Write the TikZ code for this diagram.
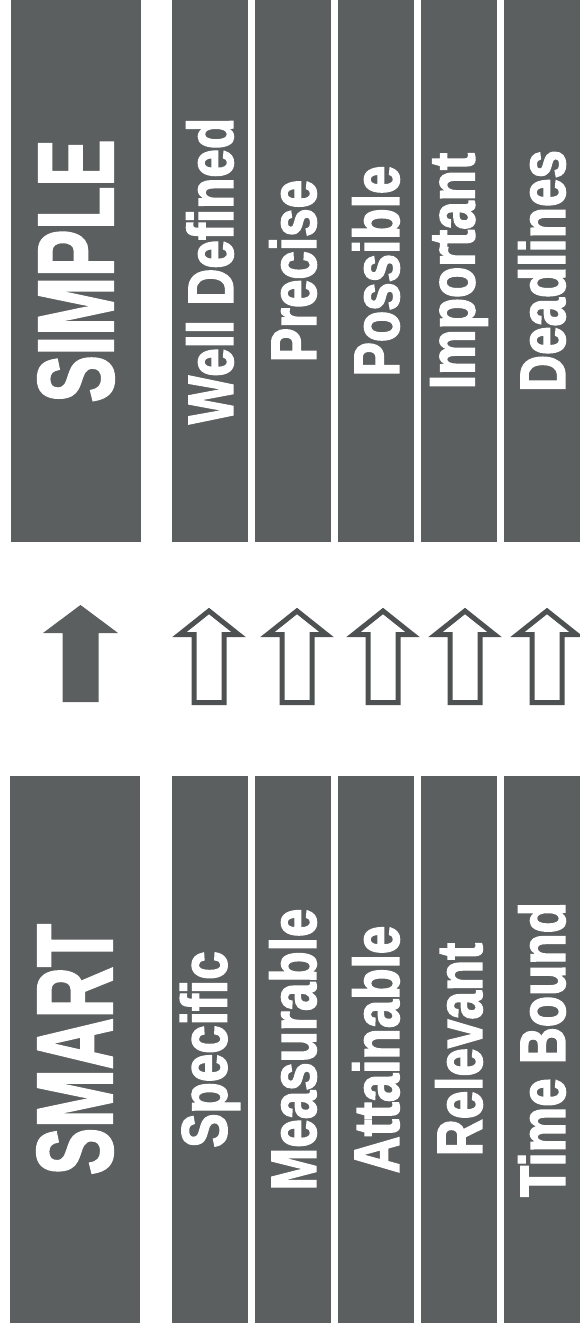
\documentclass[tikz,border=0pt]{standalone}
\usepackage{fontspec}
\setmainfont{Liberation Sans}[BoldFeatures={FakeBold=2.5}]
\usetikzlibrary{positioning}
\definecolor{bandgray}{RGB}{92,95,95}

\begin{document}
\begin{tikzpicture}[x=1pt, y=-1pt,
    band/.style={fill=bandgray, text=white, inner sep=0pt, minimum width=76pt},
    head/.style={band, minimum width=130pt, font=\fontsize{107}{107}\selectfont\bfseries},
    item/.style={band, font=\fontsize{64}{64}\selectfont\bfseries},
    solidarrow/.style={fill=bandgray},
    hollowarrow/.style={draw=bandgray!85!black, fill=white, line width=5pt, line join=miter}]
    \useasboundingbox (0,0) rectangle (580,1329);

    % SIMPLE side (top)
    \node[head, minimum height=542pt] (simple) at (76,271)
        {\rotatebox{90}{\scalebox{0.66}[1]{SIMPLE}}};
    \foreach \txt [count=\i from 0] in {Well Defined, Precise, Possible, Important, Deadlines} {
        \node[item, minimum height=542pt] (simple-\i) at (210+83*\i, 271)
            {\rotatebox{90}{\scalebox{0.8}[1]{\txt}}};
    }

    % SMART side (bottom)
    \node[head, minimum height=547pt] (smart) at (75,1049.5)
        {\rotatebox{90}{\scalebox{0.66}[1]{SMART}}};
    \foreach \txt [count=\i from 0] in {Specific, Measurable, Attainable, Relevant, Time Bound} {
        \node[item, minimum height=547pt] (smart-\i) at (210+83*\i, 1049.5)
            {\rotatebox{90}{\scalebox{0.8}[1]{\txt}}};
    }

    % Arrows
    \fill[solidarrow] (80.5,605) -- ++(37.5,28) -- ++(-19.5,0) -- ++(0,69)
        -- ++(-36,0) -- ++(0,-69) -- ++(-19.5,0) -- cycle;
    \foreach \ax in {209,297,383,465,547} {
        \draw[hollowarrow] (\ax,611) -- (\ax+29.5,634.5) -- (\ax+15,634.5) -- (\ax+15,702.5)
            -- (\ax-15,702.5) -- (\ax-15,634.5) -- (\ax-29.5,634.5) -- cycle;
    }
\end{tikzpicture}
\end{document}
